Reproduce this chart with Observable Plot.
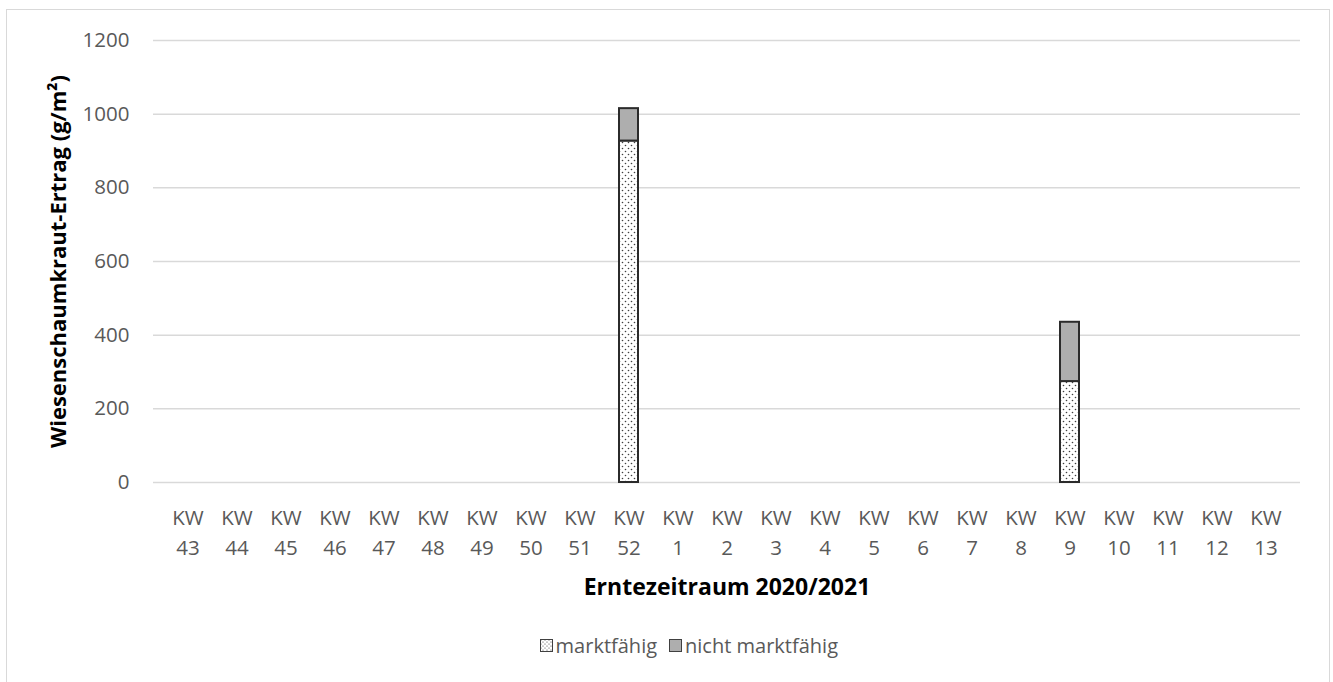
<!DOCTYPE html>
<html>
<head>
<meta charset="utf-8">
<script src="https://cdn.jsdelivr.net/npm/d3@7"></script>
<script src="https://cdn.jsdelivr.net/npm/@observablehq/plot@0.6"></script>
<style>
  html, body { margin: 0; padding: 0; background: #fff; }
  body { width: 1333px; height: 682px; position: relative; overflow: hidden; font-family: "Open Sans", sans-serif; }
  #frame { position: absolute; left: 6px; top: 9px; width: 1324px; height: 700px; border: 1.5px solid #d9d9d9; box-sizing: border-box; }
  #chart { position: absolute; left: 0; top: 0; }
  #legend { position: absolute; top: 632px; right: 495px; display: flex; gap: 12px; font-size: 20px; color: #595959; white-space: nowrap; }
  .item { display: flex; align-items: center; gap: 3px; }
</style>
</head>
<body>
<div id="frame"></div>
<div id="chart"></div>
<div id="legend">
  <div class="item"><svg width="13" height="13"><defs><pattern id="ldots" width="4" height="4" patternUnits="userSpaceOnUse"><rect width="4" height="4" fill="#fff"/><circle cx="1" cy="1" r="0.6" fill="#404040"/><circle cx="3" cy="3" r="0.6" fill="#404040"/></pattern></defs><rect x="0.5" y="0.5" width="12" height="12" fill="url(#ldots)" stroke="#404040"/></svg><span>marktfähig</span></div>
  <div class="item"><svg width="13" height="13"><rect x="0.5" y="0.5" width="12" height="12" fill="#aeaeae" stroke="#404040"/></svg><span>nicht marktfähig</span></div>
</div>
<script>
const weeks = ["43","44","45","46","47","48","49","50","51","52","1","2","3","4","5","6","7","8","9","10","11","12","13"];
const marktfaehig = [0,0,0,0,0,0,0,0,0,927,0,0,0,0,0,0,0,0,274,0,0,0,0];
const nichtMarktfaehig = [0,0,0,0,0,0,0,0,0,88,0,0,0,0,0,0,0,0,161,0,0,0,0];
const seriesNames = ["marktfähig", "nicht marktfähig"];
const yTicks = [0, 200, 400, 600, 800, 1000, 1200];

const rows = [];
weeks.forEach((w, i) => {
  if (marktfaehig[i] > 0) rows.push({week: w, series: seriesNames[0], value: marktfaehig[i]});
  if (nichtMarktfaehig[i] > 0) rows.push({week: w, series: seriesNames[1], value: nichtMarktfaehig[i]});
});

const chart = Plot.plot({
  width: 1333,
  height: 620,
  marginLeft: 153,
  marginRight: 33,
  marginTop: 40,
  marginBottom: 138,
  style: {fontFamily: "'Open Sans', sans-serif", fontSize: "20px", color: "#595959", background: "transparent"},
  x: {domain: weeks, padding: 0, label: null},
  y: {domain: [0, 1200], label: null},
  color: {domain: seriesNames, range: ["url(#dots)", "#aeaeae"]},
  marks: [
    Plot.gridY(yTicks, {stroke: "#d9d9d9", strokeOpacity: 1, strokeWidth: 1.5}),
    Plot.axisY(yTicks, {tickSize: 0, tickPadding: 24, fontSize: 20.5, fill: "#595959", tickFormat: d => String(d), label: null}),
    Plot.axisX({tickSize: 0, tickPadding: 21, fontSize: 20.5, fill: "#595959", lineHeight: 1.46, tickFormat: d => "KW\n" + d, label: null}),
    Plot.barY(rows, {x: "week", y: "value", fill: "series", stroke: "#2b2b2b", strokeWidth: 2, insetLeft: 15, insetRight: 15}),
    Plot.text(["Erntezeitraum 2020/2021"], {frameAnchor: "bottom", lineAnchor: "bottom", dy: 112, fontWeight: "bold", fontSize: 23, fill: "#000"}),
    Plot.text(["Wiesenschaumkraut-Ertrag (g/m²)"], {frameAnchor: "left", dx: -95, rotate: -90, textAnchor: "middle", fontWeight: "bold", fontSize: 22, fill: "#000"})
  ]
});

const svg = d3.select(chart);
const defs = svg.insert("defs", ":first-child");
const pat = defs.append("pattern").attr("id", "dots").attr("width", 6).attr("height", 6).attr("patternUnits", "userSpaceOnUse");
pat.append("rect").attr("width", 6).attr("height", 6).attr("fill", "#fff");
pat.append("circle").attr("cx", 1.5).attr("cy", 1.5).attr("r", 0.8).attr("fill", "#404040");
pat.append("circle").attr("cx", 4.5).attr("cy", 4.5).attr("r", 0.8).attr("fill", "#404040");
chart.style.overflow = "visible";
document.getElementById("chart").appendChild(chart);
</script>
</body>
</html>
